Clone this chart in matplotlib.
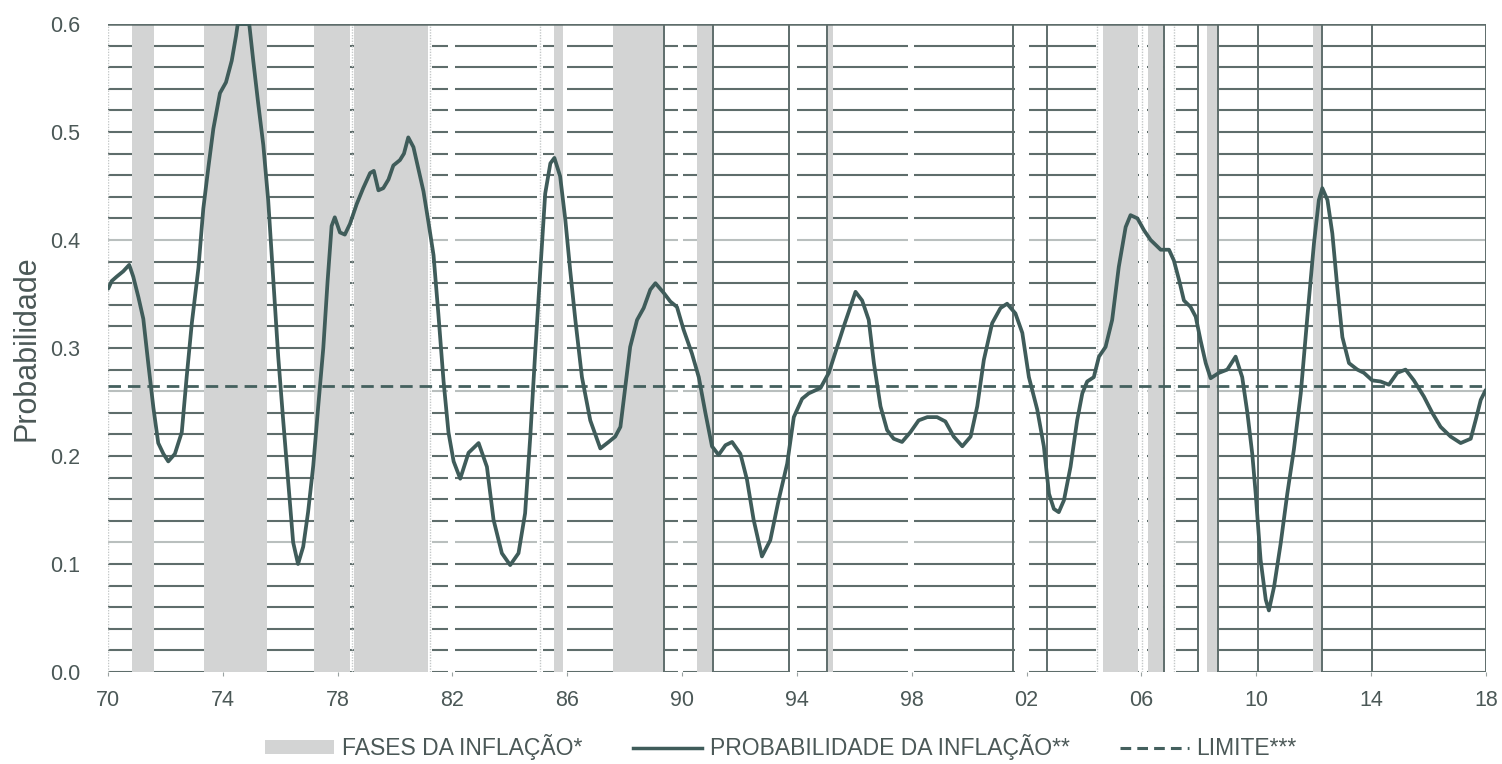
"""Probabilidade da inflação com fases de inflação sombreadas."""

import matplotlib

matplotlib.use("Agg")
import matplotlib.pyplot as plt
from matplotlib.lines import Line2D
from matplotlib.patches import Patch

plt.rcParams["font.family"] = ["Liberation Sans", "DejaVu Sans"]

# --- data -------------------------------------------------------------------
prob_years = [
    1970.01, 1970.13, 1970.30, 1970.53, 1970.74, 1970.88, 1971.06, 1971.23,
    1971.41, 1971.58, 1971.75, 1971.93, 1972.10, 1972.33, 1972.57, 1972.74,
    1972.92, 1973.15, 1973.32, 1973.50, 1973.67, 1973.90, 1974.11, 1974.31,
    1974.46, 1974.52, 1974.92, 1975.06, 1975.23, 1975.41, 1975.58, 1975.76,
    1975.93, 1976.10, 1976.28, 1976.45, 1976.62, 1976.80, 1976.97, 1977.15,
    1977.32, 1977.50, 1977.65, 1977.79, 1977.90, 1978.08, 1978.25, 1978.43,
    1978.66, 1978.89, 1979.13, 1979.26, 1979.42, 1979.59, 1979.77, 1979.94,
    1980.17, 1980.31, 1980.46, 1980.64, 1980.81, 1980.99, 1981.16, 1981.34,
    1981.51, 1981.69, 1981.86, 1982.04, 1982.27, 1982.56, 1982.91, 1983.20,
    1983.43, 1983.72, 1984.01, 1984.30, 1984.53, 1984.71, 1984.88, 1985.06,
    1985.23, 1985.41, 1985.55, 1985.75, 1985.93, 1986.10, 1986.28, 1986.51,
    1986.80, 1987.15, 1987.44, 1987.67, 1987.85, 1988.02, 1988.19, 1988.43,
    1988.66, 1988.89, 1989.07, 1989.36, 1989.59, 1989.82, 1990.05, 1990.34,
    1990.58, 1990.81, 1991.04, 1991.27, 1991.51, 1991.74, 1992.03, 1992.26,
    1992.49, 1992.78, 1993.07, 1993.36, 1993.66, 1993.89, 1994.18, 1994.41,
    1994.82, 1995.11, 1995.40, 1995.63, 1995.86, 1996.04, 1996.27, 1996.50,
    1996.68, 1996.91, 1997.14, 1997.37, 1997.66, 1997.95, 1998.24, 1998.54,
    1998.88, 1999.17, 1999.46, 1999.76, 2000.05, 2000.28, 2000.51, 2000.80,
    2001.09, 2001.32, 2001.61, 2001.85, 2002.08, 2002.37, 2002.60, 2002.78,
    2002.95, 2003.12, 2003.30, 2003.53, 2003.76, 2003.94, 2004.11, 2004.34,
    2004.52, 2004.75, 2004.98, 2005.21, 2005.45, 2005.62, 2005.86, 2006.09,
    2006.32, 2006.67, 2006.96, 2007.13, 2007.31, 2007.48, 2007.71, 2007.89,
    2008.06, 2008.24, 2008.41, 2008.70, 2008.99, 2009.28, 2009.51, 2009.69,
    2009.86, 2009.98, 2010.15, 2010.33, 2010.44, 2010.62, 2010.85, 2011.08,
    2011.31, 2011.55, 2011.78, 2012.01, 2012.18, 2012.30, 2012.48, 2012.65,
    2012.82, 2013.00, 2013.23, 2013.52, 2013.75, 2014.04, 2014.33, 2014.62,
    2014.91, 2015.20, 2015.49, 2015.84, 2016.13, 2016.42, 2016.77, 2017.12,
    2017.47, 2017.64, 2017.82, 2017.99,
]
prob_values = [
    0.355, 0.362, 0.366, 0.371, 0.377, 0.366, 0.347, 0.327,
    0.284, 0.245, 0.212, 0.202, 0.195, 0.202, 0.222, 0.273,
    0.323, 0.374, 0.429, 0.468, 0.503, 0.536, 0.546, 0.566,
    0.589, 0.600, 0.600, 0.566, 0.527, 0.488, 0.437, 0.362,
    0.292, 0.234, 0.175, 0.120, 0.100, 0.116, 0.148, 0.191,
    0.245, 0.300, 0.362, 0.413, 0.421, 0.407, 0.405, 0.415,
    0.433, 0.448, 0.462, 0.464, 0.446, 0.448, 0.456, 0.469,
    0.474, 0.480, 0.495, 0.486, 0.466, 0.445, 0.417, 0.386,
    0.331, 0.269, 0.222, 0.195, 0.179, 0.203, 0.212, 0.190,
    0.141, 0.110, 0.099, 0.110, 0.147, 0.218, 0.295, 0.372,
    0.443, 0.471, 0.476, 0.459, 0.419, 0.372, 0.326, 0.273,
    0.233, 0.207, 0.213, 0.218, 0.227, 0.264, 0.301, 0.326,
    0.337, 0.354, 0.360, 0.351, 0.343, 0.338, 0.317, 0.295,
    0.273, 0.240, 0.209, 0.201, 0.210, 0.213, 0.202, 0.178,
    0.141, 0.107, 0.122, 0.159, 0.193, 0.236, 0.253, 0.258,
    0.263, 0.277, 0.301, 0.320, 0.338, 0.352, 0.344, 0.326,
    0.286, 0.246, 0.224, 0.216, 0.213, 0.222, 0.233, 0.236,
    0.236, 0.232, 0.218, 0.209, 0.218, 0.246, 0.289, 0.323,
    0.337, 0.341, 0.332, 0.314, 0.273, 0.243, 0.209, 0.165,
    0.151, 0.148, 0.159, 0.190, 0.233, 0.258, 0.269, 0.273,
    0.292, 0.301, 0.326, 0.375, 0.412, 0.423, 0.420, 0.409,
    0.400, 0.391, 0.391, 0.381, 0.363, 0.344, 0.338, 0.329,
    0.307, 0.286, 0.272, 0.277, 0.280, 0.292, 0.273, 0.240,
    0.202, 0.165, 0.104, 0.067, 0.057, 0.079, 0.119, 0.165,
    0.206, 0.258, 0.329, 0.397, 0.437, 0.448, 0.437, 0.406,
    0.357, 0.310, 0.286, 0.280, 0.277, 0.270, 0.269, 0.266,
    0.277, 0.280, 0.270, 0.255, 0.240, 0.227, 0.218, 0.212,
    0.216, 0.233, 0.252, 0.261,
]

limit_value = 0.265

# inflation phases (start, end) in decimal years
phase_starts = [1970.84, 1973.35, 1977.18, 1978.57, 1985.54, 1987.60, 1990.52,
                1995.09, 2004.67, 2006.24, 2008.29, 2011.99]
phase_ends = [1971.60, 1975.54, 1978.43, 1981.15, 1985.85, 1989.34, 1991.04,
              1995.25, 2005.89, 2006.76, 2008.64, 2012.26]

# dark vertical rules visible in the source graphic
rule_years = [1989.37, 1991.07, 1993.73, 1995.05, 2001.53, 2002.72, 2006.80,
              2007.98, 2008.68, 2010.05, 2012.30, 2014.04]
# faint dotted rules
dotted_years = [1970.0, 1978.50, 1981.22, 1985.05, 2004.45, 2006.02, 2007.12]
# white breaks in the horizontal grid (start, end)
gap_starts = [1981.10, 1981.85, 1984.95, 1985.85, 1989.87, 1993.77, 1997.88,
              2001.58, 2004.43, 2005.90, 2006.80, 2008.00]
gap_ends = [1981.30, 1982.10, 1985.15, 1986.00, 1990.03, 1994.01, 1998.06,
            2002.07, 2004.65, 2006.20, 2007.20, 2008.27]

x_ticks = list(range(1970, 2019, 4))
x_labels = [f"{year % 100:02d}" for year in x_ticks]
y_ticks = [0.0, 0.1, 0.2, 0.3, 0.4, 0.5, 0.6]
grid_levels = [round(0.02 * i, 2) for i in range(0, 30)]
light_levels = [0.12, 0.26, 0.40]

# --- styling -------------------------------------------------------------------
LINE_COLOR = "#3f5c5a"
GRID_COLOR = "#5e6d6b"
LIGHT_GRID = "#b9bfbe"
PHASE_COLOR = "#d3d4d4"
TEXT_COLOR = "#4b5857"

fig = plt.figure(figsize=(15.02, 7.64), dpi=100)
ax = fig.add_axes([0.0719, 0.1204, 0.9174, 0.8482])

for level in grid_levels:
    color = LIGHT_GRID if level in light_levels else GRID_COLOR
    ax.axhline(level, color=color, lw=1.5, zorder=1)

for start, end in zip(gap_starts, gap_ends):
    ax.axvspan(start, end, color="white", lw=0, zorder=2)

for start, end in zip(phase_starts, phase_ends):
    ax.axvspan(start, end, color=PHASE_COLOR, lw=0, zorder=3)

for year in dotted_years:
    ax.axvline(year, color="#c4c8c8", lw=1.0, ls=(0, (1, 1)), zorder=3.5)

for year in rule_years + [2018]:
    ax.axvline(year, color=GRID_COLOR, lw=1.4, zorder=4)

ax.axhline(0.6, color=GRID_COLOR, lw=1.8, zorder=4)

ax.axhline(limit_value, color="#44605e", lw=2.0, ls=(0, (4.5, 2.5)), zorder=5)
ax.plot(prob_years, prob_values, color=LINE_COLOR, lw=2.7, zorder=6,
        solid_joinstyle="round", solid_capstyle="round")

ax.set_xlim(1970, 2018)
ax.set_ylim(0, 0.6)
ax.set_xticks(x_ticks)
ax.set_xticklabels(x_labels)
ax.set_yticks(y_ticks)
ax.set_yticklabels([f"{v:.1f}" for v in y_ticks])
ax.tick_params(axis="x", length=3, width=0.8, color="#9aa3a2", pad=10,
               labelsize=15.5, labelcolor=TEXT_COLOR)
ax.tick_params(axis="y", length=0, pad=20, labelsize=15.5, labelcolor=TEXT_COLOR)
for spine in ax.spines.values():
    spine.set_visible(False)

ax.set_ylabel("Probabilidade", fontsize=22, color=TEXT_COLOR, labelpad=6)

handles = [
    Patch(facecolor=PHASE_COLOR, edgecolor="none"),
    Line2D([], [], color=LINE_COLOR, lw=2.5),
    Line2D([], [], color="#44605e", lw=2.2, ls=(0, (3.5, 2.0))),
]
labels = ["FASES DA INFLAÇÃO*", "PROBABILIDADE DA INFLAÇÃO**", "LIMITE***"]
fig.legend(handles, labels, loc="center", bbox_to_anchor=(0.52, 0.022), ncol=3,
           frameon=False, fontsize=16.5, labelcolor=TEXT_COLOR, handlelength=3.0,
           handleheight=0.55, handletextpad=0.35, columnspacing=2.2)

fig.savefig("out.png", dpi=100)
plt.close(fig)
